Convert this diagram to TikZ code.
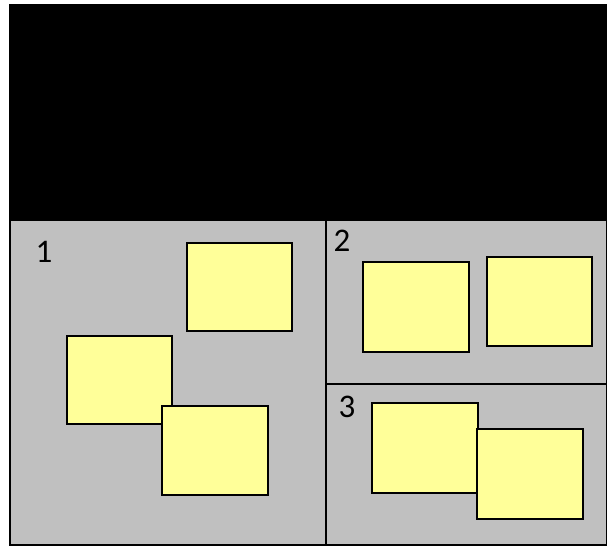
\documentclass[tikz,border=0pt]{standalone}
\usepackage{fontspec}
\setmainfont{Carlito}
\definecolor{panelgray}{HTML}{C0C0C0}
\definecolor{stickyyellow}{HTML}{FFFF99}
\tikzset{
  panel/.style={fill=panelgray, draw=black, line width=1.5pt},
  divider/.style={draw=black, line width=1.5pt},
  sticky/.style={fill=stickyyellow, draw=black, line width=1.6pt},
  numlabel/.style={font=\fontsize{33}{33}\selectfont, inner sep=0pt, text=black}
}
\begin{document}
\begin{tikzpicture}[x=1pt,y=-1pt]
\useasboundingbox (0,0) rectangle (607,546);
% black top area
\fill[black] (9,4) rectangle (607,220);
% gray panel
\draw[panel] (10,220) rectangle (607,545);
\draw[divider] (326,220) -- (326,545);
\draw[divider] (326,384) -- (607,384);
% region 1 stickies
\draw[sticky] (187,243) rectangle (292,331);
\draw[sticky] (67,336) rectangle (172,424);
\draw[sticky] (162,406) rectangle (268,495);
% region 2 stickies
\draw[sticky] (363,262) rectangle (469,352);
\draw[sticky] (487,257) rectangle (592,346);
% region 3 stickies
\draw[sticky] (372,403) rectangle (478,493);
\draw[sticky] (477,429) rectangle (583,519);
% labels
\node[numlabel] (l1) at (44,252) {1};
\node[numlabel] (l2) at (342,241) {2};
\node[numlabel] (l3) at (347,407) {3};
\end{tikzpicture}
\end{document}
